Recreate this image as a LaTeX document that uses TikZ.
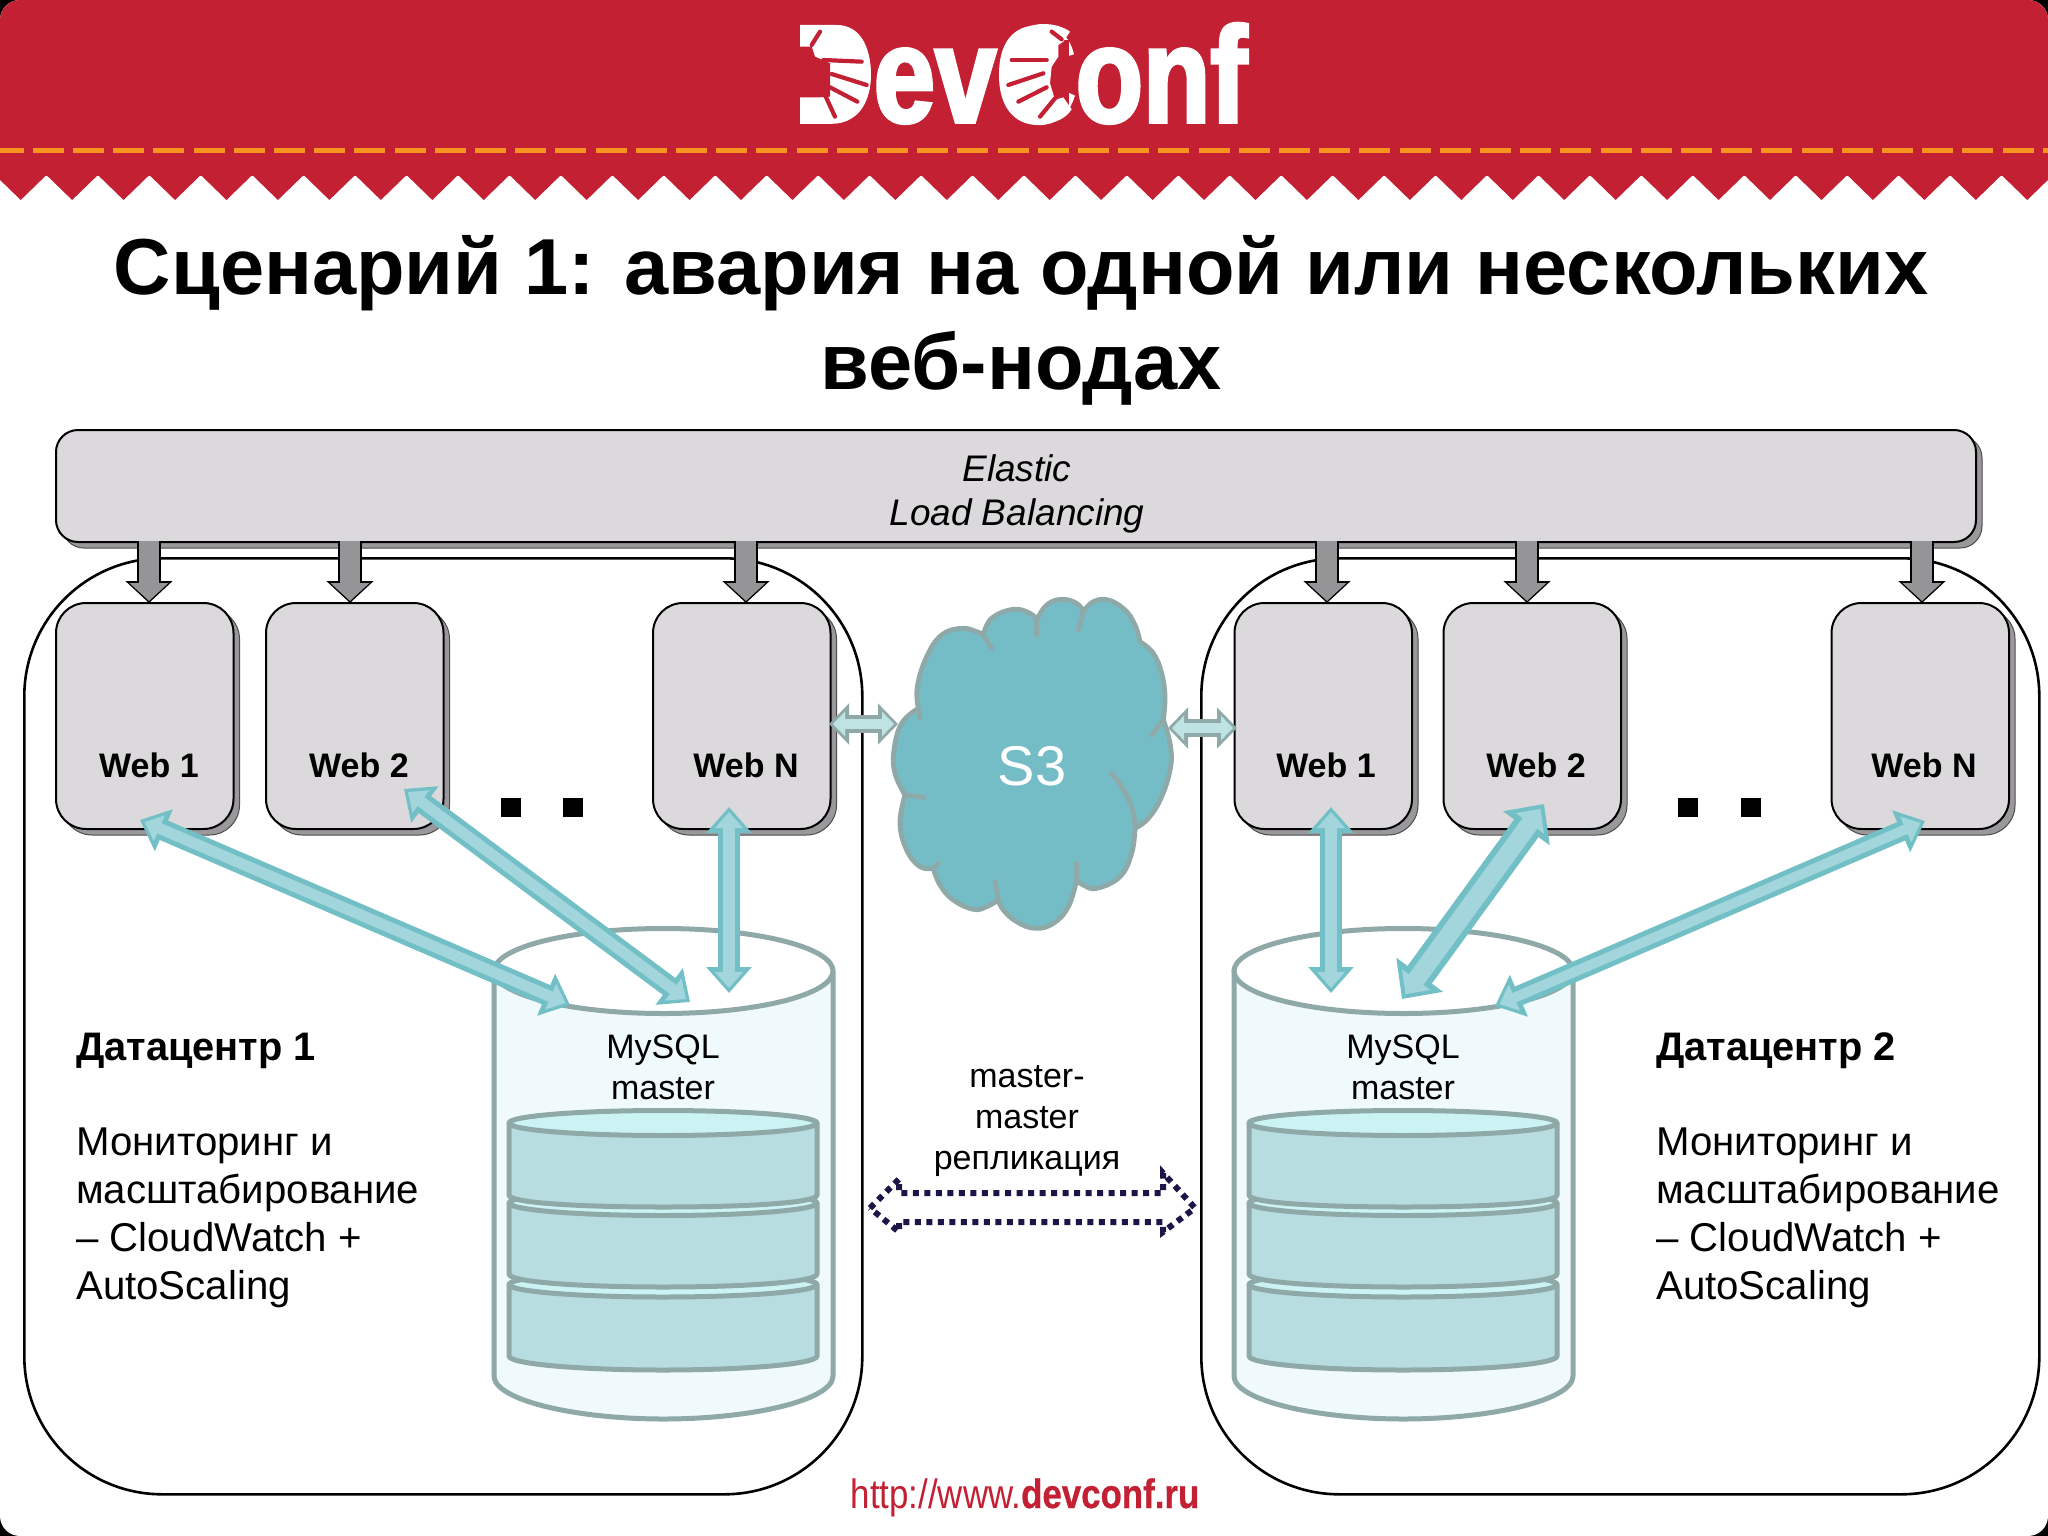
\documentclass[tikz,border=0pt]{standalone}
\usepackage{fontspec}
\setmainfont{Liberation Sans}
\newfontfamily\logofont{Liberation Sans}[BoldFeatures={FakeBold=2.6,FakeStretch=0.81}]
\newfontfamily\urlfont{Liberation Sans}[FakeStretch=0.85,BoldFeatures={FakeStretch=0.85,FakeBold=0.6}]
\usetikzlibrary{arrows.meta,shadows,calc}
\definecolor{hdred}{HTML}{C32033}
\definecolor{hdorange}{HTML}{F7941D}
\definecolor{boxfill}{HTML}{DBD9DC}
\definecolor{shadowc}{HTML}{9A989B}
\definecolor{garrow}{HTML}{959597}
\definecolor{dbline}{HTML}{8FA9A9}
\definecolor{dbbody}{HTML}{F0F9FB}
\definecolor{disktop}{HTML}{CBF3F3}
\definecolor{diskbody}{HTML}{B8DDE1}
\definecolor{tealout}{HTML}{72BFC6}
\definecolor{tealin}{HTML}{A3D5DD}
\definecolor{smallin}{HTML}{BFE3E3}
\definecolor{cloudc}{HTML}{74BDC6}
\definecolor{dotnavy}{HTML}{1B1548}
\newcommand{\fs}[1]{\fontsize{#1}{#1}\selectfont}
\tikzset{
  dcbox/.style={draw=black,line width=2.6pt,rounded corners=138pt,anchor=north west,inner sep=0pt,minimum width=838pt,minimum height=936pt},
  elbbox/.style={draw=black,line width=2pt,fill=boxfill,rounded corners=22pt,anchor=north west,inner sep=0pt,minimum width=1920pt,minimum height=112pt,
    copy shadow={shadow xshift=6pt,shadow yshift=-6pt,fill=shadowc,draw=black!70,line width=1pt}},
  webbox/.style={draw=black,line width=2pt,fill=boxfill,rounded corners=30pt,anchor=north west,inner sep=0pt,minimum width=177.5pt,minimum height=226pt,
    copy shadow={shadow xshift=6pt,shadow yshift=-6pt,fill=shadowc,draw=black!70,line width=1pt}},
  weblabel/.style={font=\bfseries\fs{34},anchor=base,inner sep=0pt},
  sqdot/.style={fill=black,inner sep=0pt,minimum width=20pt,minimum height=19pt},
  garr/.style={draw=black,line width=23.5pt,-{Triangle[length=22pt,width=46pt]},
    postaction={draw=garrow,line width=20.5pt,shorten >=2pt,-{Triangle[length=18pt,width=38pt]}}},
  dba/.style={draw=tealout,line width=#1pt,{Triangle[length=26pt,width=44pt]}-{Triangle[length=26pt,width=44pt]},
    postaction={draw=tealin,line width=#1pt-10pt,shorten >=5pt,shorten <=5pt,{Triangle[length=16pt,width=27pt]}-{Triangle[length=16pt,width=27pt]}}},
  dbb/.style={draw=tealout,line width=30pt,{Triangle[length=30pt,width=56pt]}-{Triangle[length=30pt,width=56pt]},
    postaction={draw=tealin,line width=18pt,shorten >=6pt,shorten <=6pt,{Triangle[length=18pt,width=34pt]}-{Triangle[length=18pt,width=34pt]}}},
  sma/.style={draw=dbline,line width=18pt,{Triangle[length=20pt,width=40pt]}-{Triangle[length=20pt,width=40pt]},
    postaction={draw=smallin,line width=10pt,shorten >=4pt,shorten <=4pt,{Triangle[length=12pt,width=24pt]}-{Triangle[length=12pt,width=24pt]}}},
  dbstroke/.style={draw=dbline,line width=5pt,line join=round},
  cloudedge/.style={draw=dbline,line width=4.8pt,line cap=round,line join=round},
  dotarr/.style={draw=dotnavy,line width=6pt,dash pattern=on 6pt off 5.5pt},
  plain/.style={inner sep=0pt},
  finger/.style={draw=hdred,line width=4.2pt,line cap=round},
}
\newcommand{\diskshape}[3]{%
  \draw[dbstroke,fill=diskbody] (509,#1)--(509,#2) .. controls (509,#2+8) and (580,#3) .. (663,#3) .. controls (746,#3) and (817,#2+8) .. (817,#2)--(817,#1)--cycle;
  \draw[dbstroke,fill=disktop] (663,#1) ellipse [x radius=154,y radius=12.5];
}
\newcommand{\database}[2]{%
  \begin{scope}[xshift=#1pt]
    \draw[dbstroke,fill=dbbody] (494,971)--(494,1376) .. controls (494,1400) and (575,1419) .. (663.5,1419) .. controls (752,1419) and (833,1400) .. (833,1376)--(833,971)--cycle;
    \draw[dbstroke,fill=white] (663.5,971) ellipse [x radius=169.5,y radius=42.5];
    \node[plain,font=\fs{34},anchor=base] (#2a) at (663,1058) {MySQL};
    \node[plain,font=\fs{34},anchor=base] (#2b) at (663,1099) {master};
    \diskshape{1284.5}{1356}{1370}
    \diskshape{1203}{1274}{1287}
    \diskshape{1123}{1195}{1207}
  \end{scope}
}
\begin{document}
\begin{tikzpicture}[x=1pt,y=-1pt]
\useasboundingbox (0,0) rectangle (2048,1536);
% page
\fill[black] (0,0) rectangle (2048,1536);
\fill[white,rounded corners=20pt] (0,0) rectangle (2048,1536);
\begin{scope}
  \clip[rounded corners=20pt] (0,0) rectangle (2048,1536);
  \fill[hdred] (0,0) rectangle (2048,175.5);
  \foreach \k in {0,...,40} {
    \pgfmathsetmacro{\tx}{20.7+51.45*\k}
    \fill[hdred] (\tx-25.72,175) -- (\tx,200) -- (\tx+25.72,175) -- cycle;
  }
  \draw[hdorange,line width=5pt,dash pattern=on 31pt off 9.2pt,dash phase=7.4pt] (0,151)--(2048,151);
\end{scope}
% logo
\node[plain,anchor=base west,text=white] (logo) at (794,122) {\logofont\bfseries\fs{136}DevConf};
\begin{scope}[shift={(780,0)},x=0.33333pt,y=-0.33333pt]
  % D: solid palm with finger cuts
  \fill[white] (60,75)--(170,75) .. controls (240,75) and (272,140) .. (272,220) .. controls (272,300) and (240,365) .. (170,365)--(60,365)--cycle;
  \fill[hdred] (40,140)--(95,140)--(105,170)--(150,190)--(150,290)--(120,292)--(40,292)--cycle;
  \fill[hdred] (40,60)--(60,60)--(60,380)--(40,380)--cycle;
  \draw[finger] (120,95)--(95,135);
  \draw[finger] (130,180)--(245,185);
  \draw[finger] (155,222)--(260,255);
  \draw[finger] (150,262)--(232,305);
  \draw[finger] (135,285)--(165,350);
  % C: solid palm with finger cuts
  \fill[hdred] (780,120)--(868,120)--(868,320)--(780,320)--cycle;
  \fill[white] (790,72) .. controls (710,72) and (668,140) .. (668,220) .. controls (668,300) and (710,370) .. (790,370) .. controls (830,370) and (860,352) .. (875,328)--(850,292)--(825,300)--(810,250)--(815,200)--(835,170)--(835,135)--(850,125)--(870,95) .. controls (850,80) and (820,72) .. (790,72)--cycle;
  \draw[finger] (815,95)--(845,118);
  \draw[finger] (800,180)--(695,180);
  \draw[finger] (790,220)--(685,255);
  \draw[finger] (800,262)--(715,305);
  \draw[finger] (825,295)--(780,350);
\end{scope}
% title
\node[plain,font=\bfseries\fs{79.4},anchor=base] (title1) at (1021,294) {Сценарий 1: авария на одной или нескольких};
\node[plain,font=\bfseries\fs{79.4},anchor=base] (title2) at (1021,389) {веб-нодах};
% datacentre frames
\node[dcbox] (dc1) at (23,557) {};
\node[dcbox] (dc2) at (1200,557) {};
% load balancer
\node[elbbox] (elb) at (55,429) {};
\node[plain,font=\itshape\fs{37},anchor=base] (elbt1) at (1017,481) {Elastic};
\node[plain,font=\itshape\fs{37},anchor=base] (elbt2) at (1017,525) {Load Balancing};
% web boxes
\node[webbox] (w1) at (55,602) {};
\node[webbox] (w2) at (265,602) {};
\node[webbox] (wn) at (652,602) {};
\node[webbox] (x1) at (1233.5,602) {};
\node[webbox] (x2) at (1442.5,602) {};
\node[webbox] (xn) at (1830.5,602) {};
\node[weblabel] (w1t) at (149,777) {Web 1};
\node[weblabel] (w2t) at (359,777) {Web 2};
\node[weblabel] (wnt) at (746,777) {Web N};
\node[weblabel] (x1t) at (1326,777) {Web 1};
\node[weblabel] (x2t) at (1536,777) {Web 2};
\node[weblabel] (xnt) at (1924,777) {Web N};
% gray arrows from balancer to web nodes
\foreach \n/\xx/\tgt in {a/149/w1,b/350/w2,c/746/wn,d/1327/x1,e/1527/x2,f/1922/xn} {
  \coordinate (top\n) at (\xx,541);
  \coordinate (bot\n) at (\xx,603);
  \draw[garr] (top\n) -- (bot\n);
}
% dots
\node[sqdot] (dot1) at (511,807.5) {};
\node[sqdot] (dot2) at (573,807.5) {};
\node[sqdot] (dot3) at (1688,807.5) {};
\node[sqdot] (dot4) at (1751,807.5) {};
% text blocks
\node[plain,anchor=base west,align=left,font=\fs{40.2},execute at begin node={\baselineskip=47.7pt}] (t1) at (76,1299)
  {{\bfseries\fs{39.8}Датацентр 1}\\[47.7pt]Мониторинг и\\масштабирование\\– CloudWatch +\\AutoScaling};
\node[plain,anchor=base west,align=left,font=\fs{40.2},execute at begin node={\baselineskip=47.7pt}] (t2) at (1656,1299)
  {{\bfseries\fs{39.8}Датацентр 2}\\[47.7pt]Мониторинг и\\масштабирование\\– CloudWatch +\\AutoScaling};
% databases
\database{0}{dba}
\database{740}{dbc}
% cloud
\begin{scope}[shift={(820,560)},x=0.33333pt,y=-0.33333pt]
  \draw[cloudedge,fill=cloudc] plot[smooth,tension=0.7] coordinates {(295,445) (292,380) (320,290) (365,225) (425,205) (470,215) (490,225)}
    -- plot[smooth,tension=0.7] coordinates {(490,225) (515,175) (580,148) (630,160) (650,180)}
    -- plot[smooth,tension=0.7] coordinates {(650,180) (680,135) (725,118) (770,130) (790,155)}
    -- plot[smooth,tension=0.7] coordinates {(790,155) (820,125) (865,120) (915,150) (945,195) (960,245)}
    -- plot[smooth,tension=0.7] coordinates {(960,245) (1000,280) (1025,340) (1035,410) (1030,480)}
    -- plot[smooth,tension=0.7] coordinates {(1030,480) (1050,550) (1052,620) (1025,710) (985,775) (945,805)}
    -- plot[smooth,tension=0.7] coordinates {(945,805) (935,880) (900,950) (830,985) (790,975) (770,960)}
    -- plot[smooth,tension=0.7] coordinates {(770,960) (745,1040) (700,1090) (645,1105) (590,1085) (550,1050) (535,1020)}
    -- plot[smooth,tension=0.7] coordinates {(535,1020) (500,1040) (460,1048) (400,1020) (360,975) (340,925)}
    -- plot[smooth,tension=0.7] coordinates {(340,925) (300,920) (260,870) (240,790) (255,705)}
    -- plot[smooth,tension=0.7] coordinates {(255,705) (225,640) (222,570) (245,490) (295,445)} -- cycle;
  \draw[cloudedge] (300,475)--(295,445);
  \draw[cloudedge] (515,265)--(490,225);
  \draw[cloudedge] (650,225)--(650,180);
  \draw[cloudedge] (775,210)--(790,155);
  \draw[cloudedge] (995,525)--(1030,480);
  \draw[cloudedge] (875,640) .. controls (925,700) and (945,750) .. (945,805);
  \draw[cloudedge] (770,910)--(770,960);
  \draw[cloudedge] (525,965)--(535,1020);
  \draw[cloudedge] (355,910)--(340,925);
  \draw[cloudedge] (312,712)--(255,705);
\end{scope}
\node[plain,text=white,font=\fs{56},anchor=base] (s3) at (1032,785) {S3};
% small arrows between cloud and web nodes
\coordinate (sa1) at (829,724);
\coordinate (sa2) at (898,724);
\coordinate (sb1) at (1168,728);
\coordinate (sb2) at (1237,728);
\draw[sma] (sa1) -- (sa2);
\draw[sma] (sb1) -- (sb2);
% replication label and arrow
\node[plain,font=\fs{34},anchor=base] (rep1) at (1027,1087) {master-};
\node[plain,font=\fs{34},anchor=base] (rep2) at (1027,1128) {master};
\node[plain,font=\fs{34},anchor=base] (rep3) at (1027,1169) {репликация};
\draw[dotarr] (870,1208)--(899,1179)--(899,1193)--(1163,1193)--(1163,1173)--(1195,1208)--(1163,1232)--(1163,1222)--(899,1222)--(899,1232)--cycle;
% teal arrows
\coordinate (p1a) at (140,820);
\coordinate (p1b) at (570,1005);
\coordinate (p2a) at (404,789);
\coordinate (p2b) at (690,1002);
\coordinate (p3a) at (729,807);
\coordinate (p3b) at (729,993);
\coordinate (q1a) at (1331,807);
\coordinate (q1b) at (1331,993);
\coordinate (q2a) at (1544,804);
\coordinate (q2b) at (1402,999);
\coordinate (q3a) at (1925,821);
\coordinate (q3b) at (1495,1006);
\draw[dba=21] (p1a) -- (p1b);
\draw[dba=21] (p2a) -- (p2b);
\draw[dba=22] (p3a) -- (p3b);
\draw[dba=22] (q1a) -- (q1b);
\draw[dbb] (q2a) -- (q2b);
\draw[dba=20] (q3a) -- (q3b);
% footer url
\node[plain,text=hdred,anchor=base] (url) at (1025,1508) {\urlfont\fs{41}http://www.\bfseries devconf.ru};
\end{tikzpicture}
\end{document}
